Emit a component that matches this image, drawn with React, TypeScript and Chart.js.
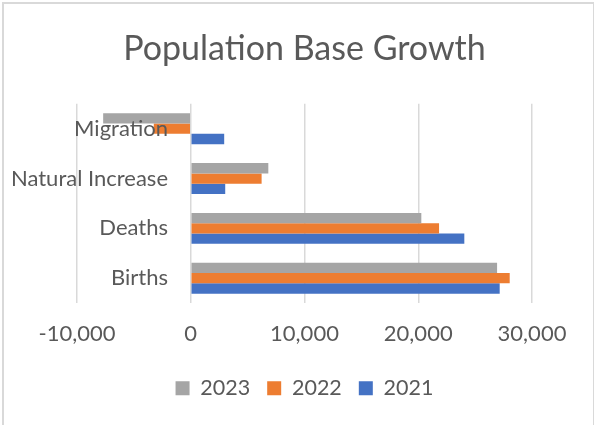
import React, { useEffect, useRef } from "react";
import { Chart, registerables } from "chart.js";

Chart.register(...registerables);

const categories = ["Migration", "Natural Increase", "Deaths", "Births"];
const series2023 = [-7700, 6820, 20270, 26930];
const series2022 = [-3250, 6230, 21830, 28040];
const series2021 = [2940, 3030, 24050, 27160];
const seriesNames = ["2023", "2022", "2021"];
const xMin = -10000;
const xMax = 30000;
const xStep = 10000;

const FONT = "Lato, 'Open Sans', sans-serif";
const TEXT = "#595959";

export default function App() {
  const ref = useRef<HTMLCanvasElement | null>(null);

  useEffect(() => {
    if (!ref.current) return;
    const chart = new Chart(ref.current, {
      type: "bar",
      data: {
        labels: categories,
        datasets: [
          { label: seriesNames[0], data: series2023, backgroundColor: "#A5A5A5" },
          { label: seriesNames[1], data: series2022, backgroundColor: "#ED7D31" },
          { label: seriesNames[2], data: series2021, backgroundColor: "#4472C4" },
        ],
      },
      options: {
        indexAxis: "y",
        responsive: false,
        animation: false,
        layout: { padding: { left: 77, right: 63, top: 0, bottom: 16 } },
        datasets: { bar: { categoryPercentage: 0.62, barPercentage: 1 } },
        scales: {
          x: {
            type: "linear",
            min: xMin,
            max: xMax,
            border: { display: false },
            grid: { color: "#D9D9D9", lineWidth: 1.5, drawTicks: false },
            ticks: {
              stepSize: xStep,
              padding: 18,
              color: TEXT,
              font: { family: FONT, size: 22 },
              callback: (v: any) => Number(v).toLocaleString("en-US"),
            },
            afterFit: (s: any) => {
              s.height -= 5;
            },
          },
          y: {
            type: "category",
            position: { x: -2000 } as any,
            border: { display: false },
            grid: { display: false, drawTicks: false },
            ticks: { color: TEXT, font: { family: FONT, size: 22 }, padding: 0, z: 1 } as any,
          },
        },
        plugins: {
          title: {
            display: true,
            text: "Population Base Growth",
            color: TEXT,
            font: { family: FONT, size: 34, weight: "normal" },
            padding: { top: 29, bottom: 34 },
          },
          legend: {
            position: "bottom",
            labels: {
              color: TEXT,
              font: { family: FONT, size: 21.5 },
              boxWidth: 14,
              boxHeight: 14,
              padding: 17,
            },
          },
          tooltip: { enabled: false },
        },
      },
    });
    return () => chart.destroy();
  }, []);

  return (
    <div style={{ position: "absolute", left: 0, top: 0, width: 595, height: 425, background: "#fff" }}>
      <canvas ref={ref} width={595} height={425} style={{ position: "absolute", left: 0, top: 0 }} />
      <div
        style={{
          position: "absolute",
          left: 2,
          top: 2,
          width: 592,
          height: 440,
          borderLeft: "2px solid #D9D9D9",
          borderTop: "2px solid #D9D9D9",
          borderRight: "1px solid #D9D9D9",
          boxSizing: "border-box",
          pointerEvents: "none",
        }}
      />
    </div>
  );
}
